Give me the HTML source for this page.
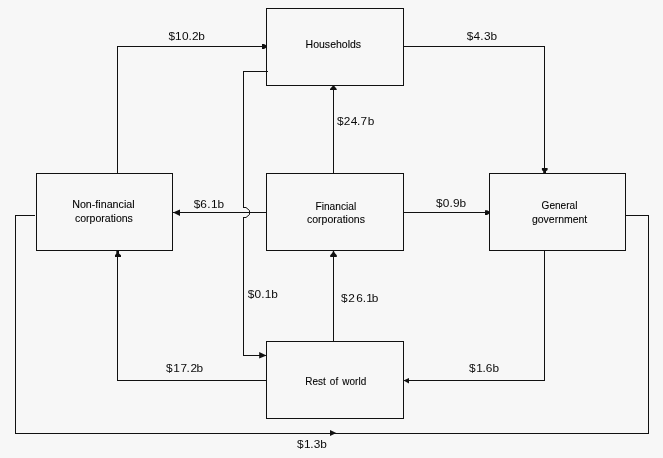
<!DOCTYPE html>
<html lang="en">
<head>
<meta charset="utf-8">
<title>Financial flows between sectors</title>
<style>
html,body{margin:0;padding:0;background:#f7f7f7;}
body{width:663px;height:458px;overflow:hidden;}
svg{display:block;will-change:transform;}
text{font-family:"Liberation Sans",Arial,sans-serif;font-size:10.5px;fill:#000;stroke:#000;stroke-width:0.08px;}
.ln{fill:none;stroke:#111;stroke-width:1;shape-rendering:crispEdges;}
.bx{fill:#f7f7f7;stroke:#111;stroke-width:1;shape-rendering:crispEdges;}
.ar{fill:#111;stroke:none;}
.fl{font-size:10.6px;stroke:none;fill:#0a0a0a;}
</style>
</head>
<body>
<svg width="663" height="458" viewBox="0 0 663 458">
<rect x="0" y="0" width="663" height="458" fill="#f7f7f7"/>

<!-- connectors -->
<path class="ln" d="M117.5,173.5 V46.5 H266.5"/>
<path class="ln" d="M403.5,46.5 H544.5 V173.5"/>
<path class="ln" d="M333.5,173.5 V85.5"/>
<path class="ln" d="M266.5,212.5 H172.5"/>
<path class="ln" d="M403.5,212.5 H489.5"/>
<path class="ln" d="M266.5,71.5 H243.5 V207.5 H246"/>
<path class="ln" d="M246,217.5 H243.5 V355.5 H266.5"/>
<path d="M246,207.5 L249.5,210.5 V214.5 L246,217.5" fill="none" stroke="#111" stroke-width="1"/>
<path class="ln" d="M333.5,341.5 V250.5"/>
<path class="ln" d="M266.5,380.5 H117.5 V250.5"/>
<path class="ln" d="M544.5,250.5 V380.5 H403.5"/>
<path class="ln" d="M35,215.5 H15.5 V433.5 H648.5 V215.5 H625.5"/>

<!-- arrow heads -->
<path class="ar" d="M262,44 H264 L266.5,45.5 V47.6 L264,49 H262 Z"/>
<path class="ar" d="M541.9,168 V170 L543.2,171.2 V173.5 H546 V171.2 L547.6,170 V168 Z"/>
<path class="ar" d="M333.5,85 L330,89 V90 H336.7 V89 Z"/>
<path class="ar" d="M173,212.5 L180,209.6 V215.9 Z"/>
<path class="ar" d="M485,210.2 H487 L489.5,211.6 V213.6 L487,215 H485 Z"/>
<path class="ar" d="M266.5,355.5 L259.2,352 V358.4 Z"/>
<path class="ar" d="M333.5,250 L332.2,253 L330.2,255.2 V256.9 H336.8 V255.2 L334.8,253 Z"/>
<path class="ar" d="M116.3,250.5 H119 V253.6 L121,255.3 V257 H115 V255.3 L116.3,253.6 Z"/>
<path class="ar" d="M403.5,380.5 L409,378 V383.4 Z"/>
<path class="ar" d="M336.3,433 L330,430 V436 Z"/>

<!-- boxes -->
<rect class="bx" x="266.5" y="8.5" width="137" height="77"/>
<rect class="bx" x="36.5" y="173.5" width="136" height="77"/>
<rect class="bx" x="266.5" y="173.5" width="137" height="77"/>
<rect class="bx" x="489.5" y="173.5" width="136" height="77"/>
<rect class="bx" x="266.5" y="341.5" width="137" height="77"/>

<path class="ln" d="M266,71.5 H268"/>

<!-- box labels -->
<text x="305.6" y="48" textLength="55.5" lengthAdjust="spacingAndGlyphs">Households</text>
<text x="72.2" y="208" textLength="62.4" lengthAdjust="spacingAndGlyphs">Non-financial</text>
<text x="74.9" y="222" textLength="58" lengthAdjust="spacingAndGlyphs">corporations</text>
<text x="315.5" y="210" textLength="40.7" lengthAdjust="spacingAndGlyphs">Financial</text>
<text x="307" y="222.7" textLength="57.9" lengthAdjust="spacingAndGlyphs">corporations</text>
<text x="541.6" y="209" textLength="35.8" lengthAdjust="spacingAndGlyphs">General</text>
<text x="531.9" y="222.9" textLength="55.4" lengthAdjust="spacingAndGlyphs">government</text>
<text x="305.2" y="384.7" textLength="61" lengthAdjust="spacingAndGlyphs" style="word-spacing:1.5px">Rest of world</text>

<!-- flow labels -->
<text class="fl" transform="scale(1.12,1)" y="39.8" x="150.47 156.24 162.45 168.35 171.34 177.11">$10.2b</text>
<text class="fl" transform="scale(1.12,1)" y="39.8" x="416.81 422.80 428.75 432.04 437.96">$4.3b</text>
<text class="fl" transform="scale(1.12,1)" y="124.8" x="300.79 306.96 313.25 318.84 321.91 328.36">$24.7b</text>
<text class="fl" transform="scale(1.12,1)" y="207.6" x="172.97 178.85 185.00 188.47 194.21">$6.1b</text>
<text class="fl" transform="scale(1.12,1)" y="206.8" x="389.22 395.27 401.43 404.38 410.28">$0.9b</text>
<text class="fl" transform="scale(1.12,1)" y="297.9" x="221.32 227.32 233.30 236.42 242.11">$0.1b</text>
<text class="fl" transform="scale(1.12,1)" y="301.8" x="304.40 310.98 318.00 323.93 326.95 331.93">$26.1b</text>
<text class="fl" transform="scale(1.12,1)" y="371.9" x="148.15 154.59 161.11 166.61 170.04 175.46">$17.2b</text>
<text class="fl" transform="scale(1.12,1)" y="371.9" x="418.69 425.12 430.89 433.80 439.75">$1.6b</text>
<text class="fl" transform="scale(1.12,1)" y="447.7" x="265.07 271.42 277.05 280.21 286.04">$1.3b</text>
</svg>
</body>
</html>
